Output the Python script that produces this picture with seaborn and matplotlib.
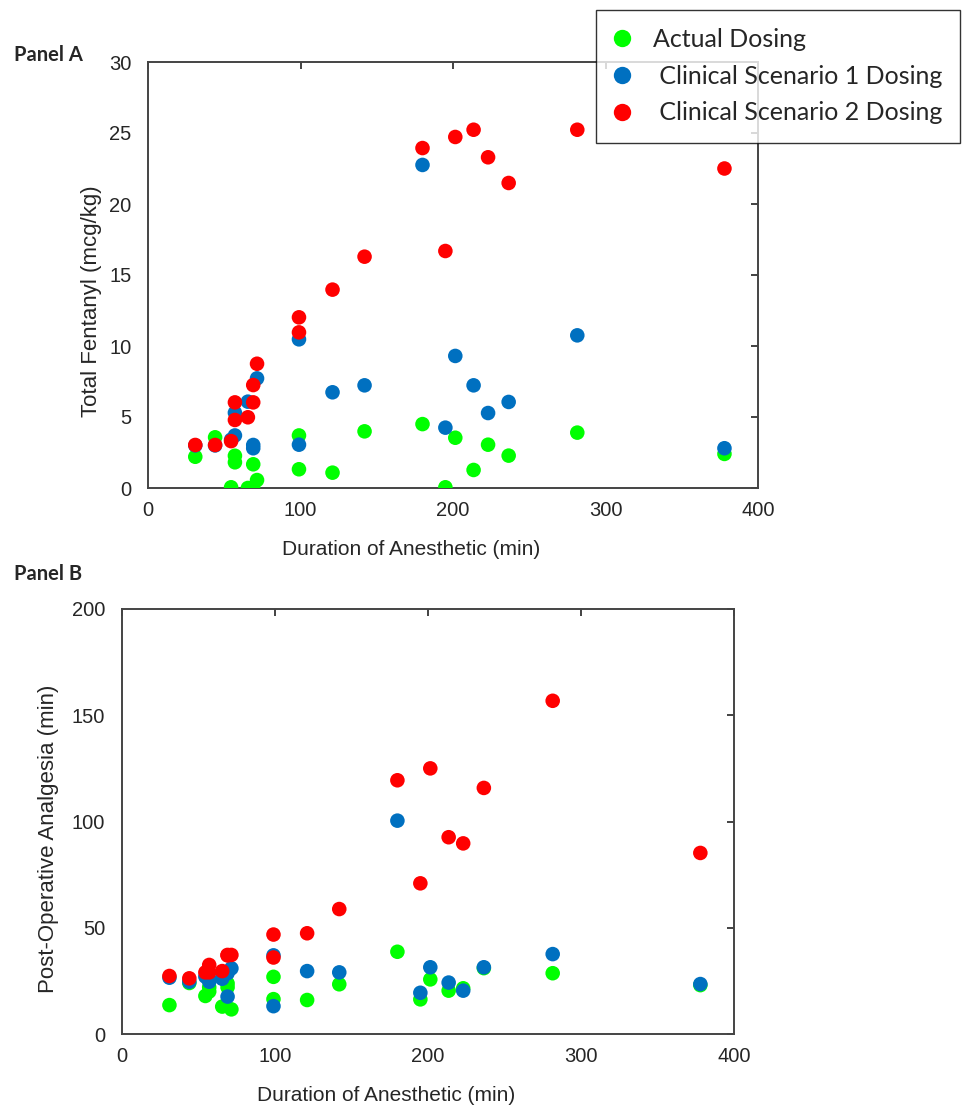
import matplotlib
matplotlib.use("Agg")
import matplotlib.pyplot as plt
import seaborn as sns
import pandas as pd
from matplotlib.lines import Line2D

# ---- data ----
duration = [31, 44, 54.5, 57, 57, 65.5, 69, 69, 71.5, 99, 99, 121, 142, 180,
            195, 201.5, 213.5, 223, 236.5, 281.5, 378]

actual_fent = [2.2, 3.57, 0.05, 2.27, 1.81, 0.0, 0.0, 1.67, 0.56, 3.7, 1.32,
               1.08, 3.99, 4.5, 0.05, 3.54, 1.27, 3.05, 2.28, 3.9, 2.4]
scen1_fent = [3.0, 3.0, 3.4, 5.3, 3.7, 6.08, 3.03, 2.8, 7.72, 10.47, 3.05,
              6.74, 7.23, 22.75, 4.25, 9.3, 7.23, 5.28, 6.06, 10.75, 2.8]
scen2_fent = [3.03, 3.03, 3.3, 6.03, 4.79, 4.98, 6.03, 7.25, 8.75, 10.96, 12.02,
              13.97, 16.29, 23.94, 16.69, 24.72, 25.23, 23.29, 21.48, 25.23, 22.5]

actual_anal = [13.6, 24, 17.9, 20, 22, 12.9, 23.8, 22, 11.6, 26.9, 16.4,
               16.0, 23.4, 38.7, 16.3, 25.7, 20.4, 21.5, 31, 28.6, 23]
scen1_anal = [26.5, 24.6, 27, 24.6, 26, 26, 17.6, 28.6, 30.9, 37, 13.1,
              29.6, 29.0, 100.4, 19.4, 31.4, 24.2, 20.4, 31.4, 37.6, 23.5]
scen2_anal = [27.3, 26.2, 29.0, 32.5, 29, 29.6, 37.2, 37, 37.2, 46.8, 36.0,
              47.4, 58.8, 119.4, 70.9, 125, 92.6, 89.7, 115.8, 156.8, 85.2]

series = ["Actual Dosing", "Clinical Scenario 1 Dosing", "Clinical Scenario 2 Dosing"]
colors = ["#00FF00", "#0070C0", "#FF0000"]

xticks = [0, 100, 200, 300, 400]
yticks_a = [0, 5, 10, 15, 20, 25, 30]
yticks_b = [0, 50, 100, 150, 200]

def long_df(vals):
    rows = []
    for name, v in zip(series, vals):
        for d, y in zip(duration, v):
            rows.append({"duration": d, "value": y, "series": name})
    return pd.DataFrame(rows)

df_a = long_df([actual_fent, scen1_fent, scen2_fent])
df_b = long_df([actual_anal, scen1_anal, scen2_anal])

sns.set_style("white")
plt.rcParams["font.family"] = ["Liberation Sans", "DejaVu Sans"]

fig = plt.figure(figsize=(9.74, 11.05), dpi=100)
axA = fig.add_axes([148/974, 1-488/1105, 610/974, 426/1105])
axB = fig.add_axes([122/974, 1-1034/1105, 612/974, 425/1105])

pal = dict(zip(series, colors))

for ax, df, yt, ylab, ypad, yfrac in [
        (axA, df_a, yticks_a, "Total Fentanyl (mcg/kg)", 5, 0.439),
        (axB, df_b, yticks_b, "Post-Operative Analgesia (min)", 9, 0.459)]:
    sns.scatterplot(data=df, x="duration", y="value", hue="series",
                    palette=pal, hue_order=series, s=110, linewidth=0,
                    ax=ax, legend=False, zorder=3)
    ax.set_xlim(0, 400)
    ax.set_ylim(yt[0], yt[-1])
    ax.set_xticks(xticks)
    ax.set_yticks(yt)
    ax.set_xlabel("Duration of Anesthetic (min)", fontsize=15, labelpad=15)
    ax.set_ylabel(ylab, fontsize=16, labelpad=ypad)
    ax.xaxis.label.set_x(0.431)
    ax.yaxis.label.set_y(yfrac)
    ax.tick_params(axis="both", direction="in", length=5, width=1.2,
                   labelsize=14.5, top=True, right=True, color="#222222")
    ax.tick_params(axis="x", pad=9)
    ax.tick_params(axis="y", pad=12)
    ax.tick_params(labeltop=False, labelright=False)
    for sp in ax.spines.values():
        sp.set_visible(True)
        sp.set_color("#444444")
        sp.set_linewidth(1.4)

fig.text(14/974, 1-55/1105, "Panel A", fontsize=14.5, fontweight="bold",
         family=["Lato", "DejaVu Sans"], va="center", ha="left")
fig.text(14/974, 1-574/1105, "Panel B", fontsize=14.5, fontweight="bold",
         family=["Lato", "DejaVu Sans"], va="center", ha="left")

handles = [Line2D([], [], marker="o", linestyle="none", markersize=12.5,
                  markerfacecolor=c, markeredgewidth=0) for c in colors]
labels = ["Actual Dosing", " Clinical Scenario 1 Dosing", " Clinical Scenario 2 Dosing"]
leg = fig.legend(handles, labels, loc="upper left",
                 bbox_to_anchor=(596/974, 1-10/1105),
                 prop={"family": ["Lato", "DejaVu Sans"], "size": 18},
                 frameon=True, fancybox=False, edgecolor="black",
                 handletextpad=0.95, labelspacing=0.55, borderpad=0.72,
                 handlelength=0.6, borderaxespad=0)
leg.get_frame().set_linewidth(1.0)

fig.savefig("out.png", dpi=100)
